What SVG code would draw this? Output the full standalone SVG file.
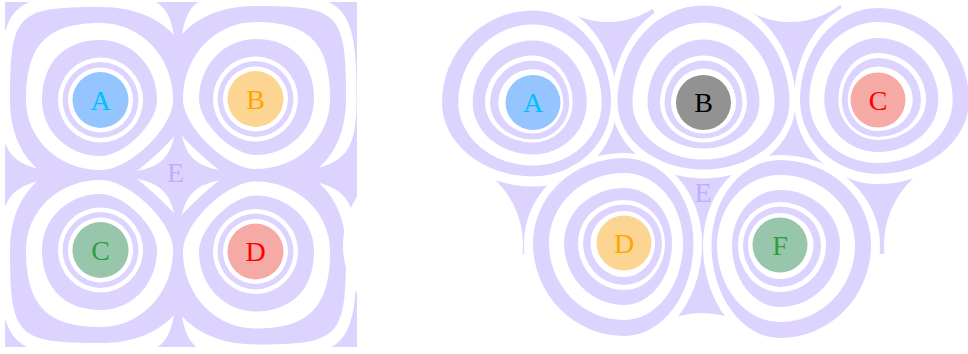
<svg xmlns="http://www.w3.org/2000/svg" width="968" height="354" viewBox="0 0 968 354">
<style>
.lav{fill:#dcd4ff}
.wht{fill:#ffffff}
.lbl{font-family:"Liberation Serif","DejaVu Serif",serif;font-size:28px;text-anchor:middle}
.e{fill:#bfaeff}
</style>
<defs>
 <g id="tpl">
  <path class="wht" d="M76.5,0 C76.5,61 63.5,73.5 0,73.5 C-85.9,73.5 -101,62.5 -101,0 C-101,-95.4 -90.9,-106 0,-106 C70.4,-106 76.5,-97.5 76.5,0Z"/>
  <path class="lav" d="M96,0 C96,22.5 24,90 0,90 C-56.1,90 -90.5,55.8 -90.5,0 C-90.5,-86.5 -84.2,-93 0,-93 C59.5,-93 96,-57.7 96,0Z"/>
  <path class="wht" d="M72.5,0 C72.5,28 29,70 0,70 C-41.7,70 -74.5,39.2 -74.5,0 C-74.5,-55.4 -53.6,-77 0,-77 C40.6,-77 72.5,-43.1 72.5,0Z"/>
  <path class="lav" d="M56.5,0 C56.5,23.5 23.7,56 0,56 C-32.8,56 -58.5,31.4 -58.5,0 C-58.5,-37.2 -36.3,-60 0,-60 C31.6,-60 56.5,-33.6 56.5,0Z"/>
  <circle class="wht" r="42.5"/>
  <circle class="lav" r="38"/>
  <circle class="wht" r="32.5"/>
 </g>
 <clipPath id="cA"><rect x="5" y="2" width="172" height="171"/></clipPath>
 <clipPath id="cB"><rect x="177" y="2" width="180" height="171"/></clipPath>
 <clipPath id="cC"><rect x="5" y="173" width="172" height="174"/></clipPath>
 <clipPath id="cD"><rect x="177" y="173" width="180" height="174"/></clipPath>
</defs>

<g id="left-diagram">
 <rect id="left-E-region" class="lav" x="5" y="2" width="352" height="345"/>
 <g id="L-A">
  <g clip-path="url(#cA)"><use href="#tpl" transform="translate(100.5,100)"/></g>
  <circle cx="100.5" cy="100" r="28" fill="#95c5ff"/>
  <text class="lbl" x="100.5" y="109.5" fill="#00bfff">A</text>
 </g>
 <g id="L-B">
  <g clip-path="url(#cB)"><use href="#tpl" transform="translate(255.5,99) scale(-1,1)"/></g>
  <circle cx="255.5" cy="99" r="28" fill="#fdd592"/>
  <text class="lbl" x="255.5" y="108.5" fill="#ffa500">B</text>
 </g>
 <g id="L-C">
  <g clip-path="url(#cC)"><use href="#tpl" transform="translate(100.5,250) scale(1,-1)"/></g>
  <circle cx="100.5" cy="250" r="28" fill="#97c6ad"/>
  <text class="lbl" x="100.5" y="259.5" fill="#2e9e3e">C</text>
 </g>
 <g id="L-D">
  <g clip-path="url(#cD)"><use href="#tpl" transform="translate(255.5,251.5) scale(-1,-1)"/></g>
  <circle cx="255.5" cy="251.5" r="28" fill="#f6aaa6"/>
  <text class="lbl" x="255.5" y="261" fill="#ff0000">D</text>
 </g>
 <text id="L-E" class="lbl e" x="175.5" y="181.5">E</text>
</g>

<g id="right-diagram">
 <g id="R-E-region">
  <polygon class="lav" points="533,102 566,4 650,4 703,102 756,4 840,4 878,100 935,160 895,255 780,245 740,330 665,330 624,243 512,255 478,168"/>
  <circle class="wht" cx="608" cy="-60" r="82"/>
  <circle class="wht" cx="790" cy="-60" r="82"/>
  <circle class="wht" cx="975" cy="245" r="91"/>
  <circle class="wht" cx="433" cy="245" r="90"/>
  <circle class="wht" cx="702" cy="400" r="87"/>
 </g>
 <g id="R-A">
  <path class="wht" d="M617,102.5 A84,84 0 0 1 533,186.5 A100,84 0 0 1 433,102.5 A100,102 0 0 1 533,0.5 A84,102 0 0 1 617,102.5Z"/>
  <path class="lav" d="M611,102.5 A78,74 0 0 1 533,176.5 A91,74 0 0 1 442,102.5 A91,92 0 0 1 533,10.5 A78,92 0 0 1 611,102.5Z"/>
  <path class="wht" d="M601.7,102.5 A68.7,63 0 0 1 533,165.5 A74.7,63 0 0 1 458.3,102.5 A74.7,78 0 0 1 533,24.5 A68.7,78 0 0 1 601.7,102.5Z"/>
  <path class="lav" d="M586.7,102.5 A53.7,52 0 0 1 533,154.5 A60.3,52 0 0 1 472.7,102.5 A60.3,62 0 0 1 533,40.5 A53.7,62 0 0 1 586.7,102.5Z"/>
  <path class="wht" d="M572.7,102.5 A39.7,40 0 0 1 533,142.5 A48,40 0 0 1 485,102.5 A48,47 0 0 1 533,55.5 A39.7,47 0 0 1 572.7,102.5Z"/>
  <path class="lav" d="M569.3,102.5 A36.3,37 0 0 1 533,139.5 A43,37 0 0 1 490,102.5 A43,42 0 0 1 533,60.5 A36.3,42 0 0 1 569.3,102.5Z"/>
  <path class="wht" d="M563.3,102.5 A30.3,31 0 0 1 533,133.5 A34.7,31 0 0 1 498.3,102.5 A34.7,33.5 0 0 1 533,69 A30.3,33.5 0 0 1 563.3,102.5Z"/>
  <circle cx="533" cy="102.5" r="27.5" fill="#95c5ff"/>
  <text class="lbl" x="533" y="112" fill="#00bfff">A</text>
 </g>
 <g id="R-B">
  <path class="wht" d="M795.5,102.5 A92,76 0 0 1 703.5,178.5 A92,76 0 0 1 611.5,102.5 A92,106 0 0 1 703.5,-3.5 A92,106 0 0 1 795.5,102.5Z"/>
  <path class="lav" d="M789.5,102.5 A86,67 0 0 1 703.5,169.5 A86,67 0 0 1 617.5,102.5 A86,97 0 0 1 703.5,5.5 A86,97 0 0 1 789.5,102.5Z"/>
  <path class="wht" d="M774.5,102.5 A71,57 0 0 1 703.5,159.5 A71,57 0 0 1 632.5,102.5 A71,80 0 0 1 703.5,22.5 A71,80 0 0 1 774.5,102.5Z"/>
  <path class="lav" d="M759.5,102.5 A56,46 0 0 1 703.5,148.5 A56,46 0 0 1 647.5,102.5 A56,63 0 0 1 703.5,39.5 A56,63 0 0 1 759.5,102.5Z"/>
  <path class="wht" d="M747,102.5 A43.5,40 0 0 1 703.5,142.5 A43.5,40 0 0 1 660,102.5 A43.5,47 0 0 1 703.5,55.5 A43.5,47 0 0 1 747,102.5Z"/>
  <path class="lav" d="M742.5,102.5 A39,36 0 0 1 703.5,138.5 A39,36 0 0 1 664.5,102.5 A39,42 0 0 1 703.5,60.5 A39,42 0 0 1 742.5,102.5Z"/>
  <path class="wht" d="M736,102.5 A32.5,31 0 0 1 703.5,133.5 A32.5,31 0 0 1 671,102.5 A32.5,34 0 0 1 703.5,68.5 A32.5,34 0 0 1 736,102.5Z"/>
  <circle cx="703.5" cy="102.5" r="27.5" fill="#929292"/>
  <text class="lbl" x="703.5" y="112" fill="#000000">B</text>
 </g>
 <g id="R-C">
  <path class="wht" d="M978,100 A100,84 0 0 1 878,184 A84,84 0 0 1 794,100 A84,102 0 0 1 878,-2 A100,102 0 0 1 978,100Z"/>
  <path class="lav" d="M969,100 A91,74 0 0 1 878,174 A78,74 0 0 1 800,100 A78,92 0 0 1 878,8 A91,92 0 0 1 969,100Z"/>
  <path class="wht" d="M952.7,100 A74.7,63 0 0 1 878,163 A68.7,63 0 0 1 809.3,100 A68.7,78 0 0 1 878,22 A74.7,78 0 0 1 952.7,100Z"/>
  <path class="lav" d="M938.3,100 A60.3,52 0 0 1 878,152 A53.7,52 0 0 1 824.3,100 A53.7,62 0 0 1 878,38 A60.3,62 0 0 1 938.3,100Z"/>
  <path class="wht" d="M926,100 A48,40 0 0 1 878,140 A39.7,40 0 0 1 838.3,100 A39.7,47 0 0 1 878,53 A48,47 0 0 1 926,100Z"/>
  <path class="lav" d="M921,100 A43,37 0 0 1 878,137 A36.3,37 0 0 1 841.7,100 A36.3,42 0 0 1 878,58 A43,42 0 0 1 921,100Z"/>
  <path class="wht" d="M912.7,100 A34.7,31 0 0 1 878,131 A30.3,31 0 0 1 847.7,100 A30.3,33.5 0 0 1 878,66.5 A34.7,33.5 0 0 1 912.7,100Z"/>
  <circle cx="878" cy="100" r="27.5" fill="#f6aaa6"/>
  <text class="lbl" x="878" y="109.5" fill="#ff0000">C</text>
 </g>
 <g id="R-D">
  <path class="wht" d="M702,243 A78,102 0 0 1 624,345 A100,102 0 0 1 524,243 A100,90 0 0 1 624,153 A78,90 0 0 1 702,243Z"/>
  <path class="lav" d="M693.5,243 A69.5,93 0 0 1 624,336 A91,93 0 0 1 533,243 A91,85 0 0 1 624,158 A69.5,85 0 0 1 693.5,243Z"/>
  <path class="wht" d="M683,243 A59,77 0 0 1 624,320 A75,77 0 0 1 549,243 A75,70 0 0 1 624,173 A59,70 0 0 1 683,243Z"/>
  <path class="lav" d="M672,243 A48,62 0 0 1 624,305 A60,62 0 0 1 564,243 A60,55 0 0 1 624,188 A48,55 0 0 1 672,243Z"/>
  <path class="wht" d="M665,243 A41,47 0 0 1 624,290 A46,47 0 0 1 578,243 A46,43 0 0 1 624,200 A41,43 0 0 1 665,243Z"/>
  <path class="lav" d="M662,243 A38,42 0 0 1 624,285 A41,42 0 0 1 583,243 A41,38.5 0 0 1 624,204.5 A38,38.5 0 0 1 662,243Z"/>
  <path class="wht" d="M655,243 A31,34 0 0 1 624,277 A33.5,34 0 0 1 590.5,243 A33.5,32 0 0 1 624,211 A31,32 0 0 1 655,243Z"/>
  <circle cx="624" cy="243" r="27.5" fill="#fdd592"/>
  <text class="lbl" x="624" y="252.5" fill="#ffa500">D</text>
 </g>
 <g id="R-F">
  <path class="wht" d="M880,245 A100,102 0 0 1 780,347 A77,102 0 0 1 703,245 A77,90 0 0 1 780,155 A100,90 0 0 1 880,245Z"/>
  <path class="lav" d="M871,245 A91,93 0 0 1 780,338 A68.5,93 0 0 1 711.5,245 A68.5,85 0 0 1 780,160 A91,85 0 0 1 871,245Z"/>
  <path class="wht" d="M855,245 A75,77 0 0 1 780,322 A63,77 0 0 1 717,245 A63,70 0 0 1 780,175 A75,70 0 0 1 855,245Z"/>
  <path class="lav" d="M840,245 A60,62 0 0 1 780,307 A48,62 0 0 1 732,245 A48,55 0 0 1 780,190 A60,55 0 0 1 840,245Z"/>
  <path class="wht" d="M826,245 A46,47 0 0 1 780,292 A42,47 0 0 1 738,245 A42,43 0 0 1 780,202 A46,43 0 0 1 826,245Z"/>
  <path class="lav" d="M821,245 A41,42 0 0 1 780,287 A37,42 0 0 1 743,245 A37,38.5 0 0 1 780,206.5 A41,38.5 0 0 1 821,245Z"/>
  <path class="wht" d="M813.5,245 A33.5,34 0 0 1 780,279 A32,34 0 0 1 748,245 A32,32 0 0 1 780,213 A33.5,32 0 0 1 813.5,245Z"/>
  <circle cx="780" cy="245" r="27.5" fill="#97c6ad"/>
  <text class="lbl" x="780" y="254.5" fill="#2e9e3e">F</text>
 </g>
 <text id="R-E" class="lbl e" x="703" y="201.5">E</text>
</g>
</svg>
